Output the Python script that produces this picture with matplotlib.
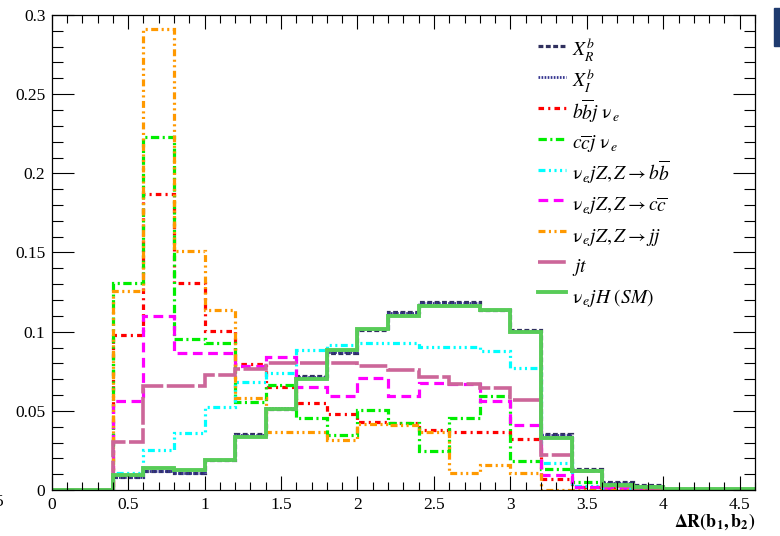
import matplotlib
matplotlib.use("Agg")
import matplotlib.pyplot as plt
import numpy as np
from matplotlib.ticker import MultipleLocator, FuncFormatter
from matplotlib.patches import Rectangle
from matplotlib.lines import Line2D

plt.rcParams["font.family"] = ["Liberation Serif", "DejaVu Serif"]
plt.rcParams["mathtext.fontset"] = "stix"
plt.rcParams["lines.scale_dashes"] = False

# Delta R(b1,b2) histograms, 0.2-wide bins from 0 to 4.6 (normalised)
bin_edges = np.round(np.arange(0.0, 4.6001, 0.2), 2)

xr_b = [0, 0, 0.0080, 0.0122, 0.0105, 0.0190, 0.0354, 0.0510, 0.0720, 0.0865, 0.1010,
        0.1127, 0.1187, 0.1187, 0.1140, 0.1010, 0.0354, 0.0130, 0.0049, 0.0030, 0.0008,
        0.0005, 0.0003]
xi_b = [0, 0, 0.0085, 0.0120, 0.0110, 0.0192, 0.0350, 0.0515, 0.0715, 0.0870, 0.1015,
        0.1120, 0.1180, 0.1180, 0.1135, 0.1005, 0.0345, 0.0125, 0.0045, 0.0025, 0.0008,
        0.0004, 0.0002]
bbj_nue = [0, 0, 0.0980, 0.1870, 0.1310, 0.1007, 0.0795, 0.0650, 0.0547, 0.0480, 0.0430,
           0.0425, 0.0380, 0.0365, 0.0365, 0.0320, 0.0068, 0.0020, 0.0010, 0.0005, 0, 0, 0]
ccj_nue = [0, 0, 0.1305, 0.2230, 0.0953, 0.0926, 0.0555, 0.0663, 0.0456, 0.0350, 0.0504,
           0.0424, 0.0244, 0.0456, 0.0593, 0.0186, 0.0130, 0.0053, 0.0030, 0.0020, 0, 0, 0]
z_bb = [0, 0, 0.0110, 0.0250, 0.0360, 0.0526, 0.0684, 0.0737, 0.0885, 0.0916, 0.0926,
        0.0926, 0.0905, 0.0905, 0.0878, 0.0768, 0.0169, 0.0025, 0.0010, 0.0005, 0, 0, 0]
z_cc = [0, 0, 0.0560, 0.1100, 0.0863, 0.0863, 0.0784, 0.0837, 0.0653, 0.0596, 0.0706,
        0.0596, 0.0678, 0.0670, 0.0564, 0.0410, 0.0095, 0.0020, 0.0015, 0.0010, 0, 0, 0]
z_jj = [0, 0, 0.1257, 0.2910, 0.1510, 0.1140, 0.0578, 0.0364, 0.0367, 0.0314, 0.0420,
        0.0413, 0.0364, 0.0110, 0.0158, 0.0105, 0.0003, 0, 0, 0, 0, 0, 0]
jt = [0, 0, 0.0303, 0.0657, 0.0657, 0.0725, 0.0767, 0.0800, 0.0800, 0.0800, 0.0785,
      0.0760, 0.0713, 0.0670, 0.0645, 0.0570, 0.0221, 0.0122, 0.0025, 0.0010, 0, 0, 0]
nuejh_sm = [0, 0, 0.0095, 0.0137, 0.0124, 0.0190, 0.0333, 0.0513, 0.0700, 0.0883, 0.1017,
            0.1100, 0.1160, 0.1160, 0.1138, 0.0996, 0.0329, 0.0118, 0.0032, 0.0017, 0.0006,
            0.0005, 0.0004]

labels = [
    r"$X_R^b$",
    r"$X_I^b$",
    r"$b\overline{b}j\ \mathrm{\nu}_{\,e}$",
    r"$c\overline{c}j\ \mathrm{\nu}_{\,e}$",
    r"$\mathrm{\nu}_{\,e} jZ,Z\rightarrow b\overline{b}$",
    r"$\mathrm{\nu}_{\,e} jZ,Z\rightarrow c\overline{c}$",
    r"$\mathrm{\nu}_{\,e} jZ,Z\rightarrow jj$",
    r"$jt$",
    r"$\mathrm{\nu}_{\,e} jH\ (SM)$",
]
series = [xr_b, xi_b, bbj_nue, ccj_nue, z_bb, z_cc, z_jj, jt, nuejh_sm]
styles = [
    dict(color="#30305e", lw=2.3, ls=(0, (3.5, 1.8))),
    dict(color="#35358f", lw=2.0, ls=(0, (1.2, 1.0))),
    dict(color="#ff0000", lw=2.3, ls=(0, (4, 3, 1.5, 3))),
    dict(color="#00ee00", lw=2.3, ls=(0, (6, 2.5, 1.5, 2.5))),
    dict(color="#00ffff", lw=2.3, ls=(0, (5, 2.5, 1.5, 2.5, 1.5, 2.5, 1.5, 2.5))),
    dict(color="#ff00ff", lw=2.3, ls=(0, (7, 4))),
    dict(color="#ff9900", lw=2.3, ls=(0, (5, 2.5, 1.5, 2.5, 1.5, 2.5))),
    dict(color="#cc6699", lw=2.6, ls=(0, (20, 2.5))),
    dict(color="#58cc58", lw=2.8, ls="-"),
]

fig = plt.figure(figsize=(7.8, 5.36), dpi=100)
ax = fig.add_axes([51.7 / 780, 46 / 536, (755 - 51.7) / 780, (490 - 15) / 536])

for vals, st, lab in zip(series, styles, labels):
    ax.stairs(vals, bin_edges, baseline=None, color=st["color"], linewidth=st["lw"],
              linestyle=st["ls"], label=lab)

ax.set_xlim(0, 4.6)
ax.set_ylim(0, 0.3)

ax.xaxis.set_major_locator(MultipleLocator(0.5))
ax.xaxis.set_minor_locator(MultipleLocator(0.1))
ax.yaxis.set_major_locator(MultipleLocator(0.05))
ax.yaxis.set_minor_locator(MultipleLocator(0.01))
fmt = FuncFormatter(lambda v, p: "%g" % round(v, 3))
ax.xaxis.set_major_formatter(fmt)
ax.yaxis.set_major_formatter(fmt)

ax.tick_params(axis="both", which="both", direction="in", top=True, right=True,
               width=0.8, colors="black", labelsize=12.5)
ax.tick_params(axis="x", which="major", length=10, pad=5)
ax.tick_params(axis="x", which="minor", length=5.5)
ax.tick_params(axis="y", which="major", length=16, pad=4.5)
ax.tick_params(axis="y", which="minor", length=8)
for sp in ax.spines.values():
    sp.set_linewidth(0.9)

# equal-height legend rows: the handle box is taller than every label
leg_handles = [Line2D([], [], color=st["color"], lw=st["lw"], ls=st["ls"]) for st in styles]
ax.legend(leg_handles, labels, loc="upper left", bbox_to_anchor=(538 / 780, 1 - 35.5 / 536),
          bbox_transform=fig.transFigure, frameon=False, fontsize=14, borderpad=0,
          borderaxespad=0, handlelength=1.45, handletextpad=0.3, handleheight=2.05,
          labelspacing=0.0)

fig.text(755 / 780, 9 / 536, r"$\mathbf{\Delta R(b_1,b_2)}$", ha="right", va="baseline",
         fontsize=13)
fig.text(4 / 780, (536 - 502) / 536, "5", ha="right", va="center", fontsize=12.5)
fig.patches.append(Rectangle((774 / 780, (536 - 46) / 536), 6 / 780, 38 / 536,
                             transform=fig.transFigure, color="#1f3b6f", zorder=5))

fig.savefig("out.png", dpi=100)
